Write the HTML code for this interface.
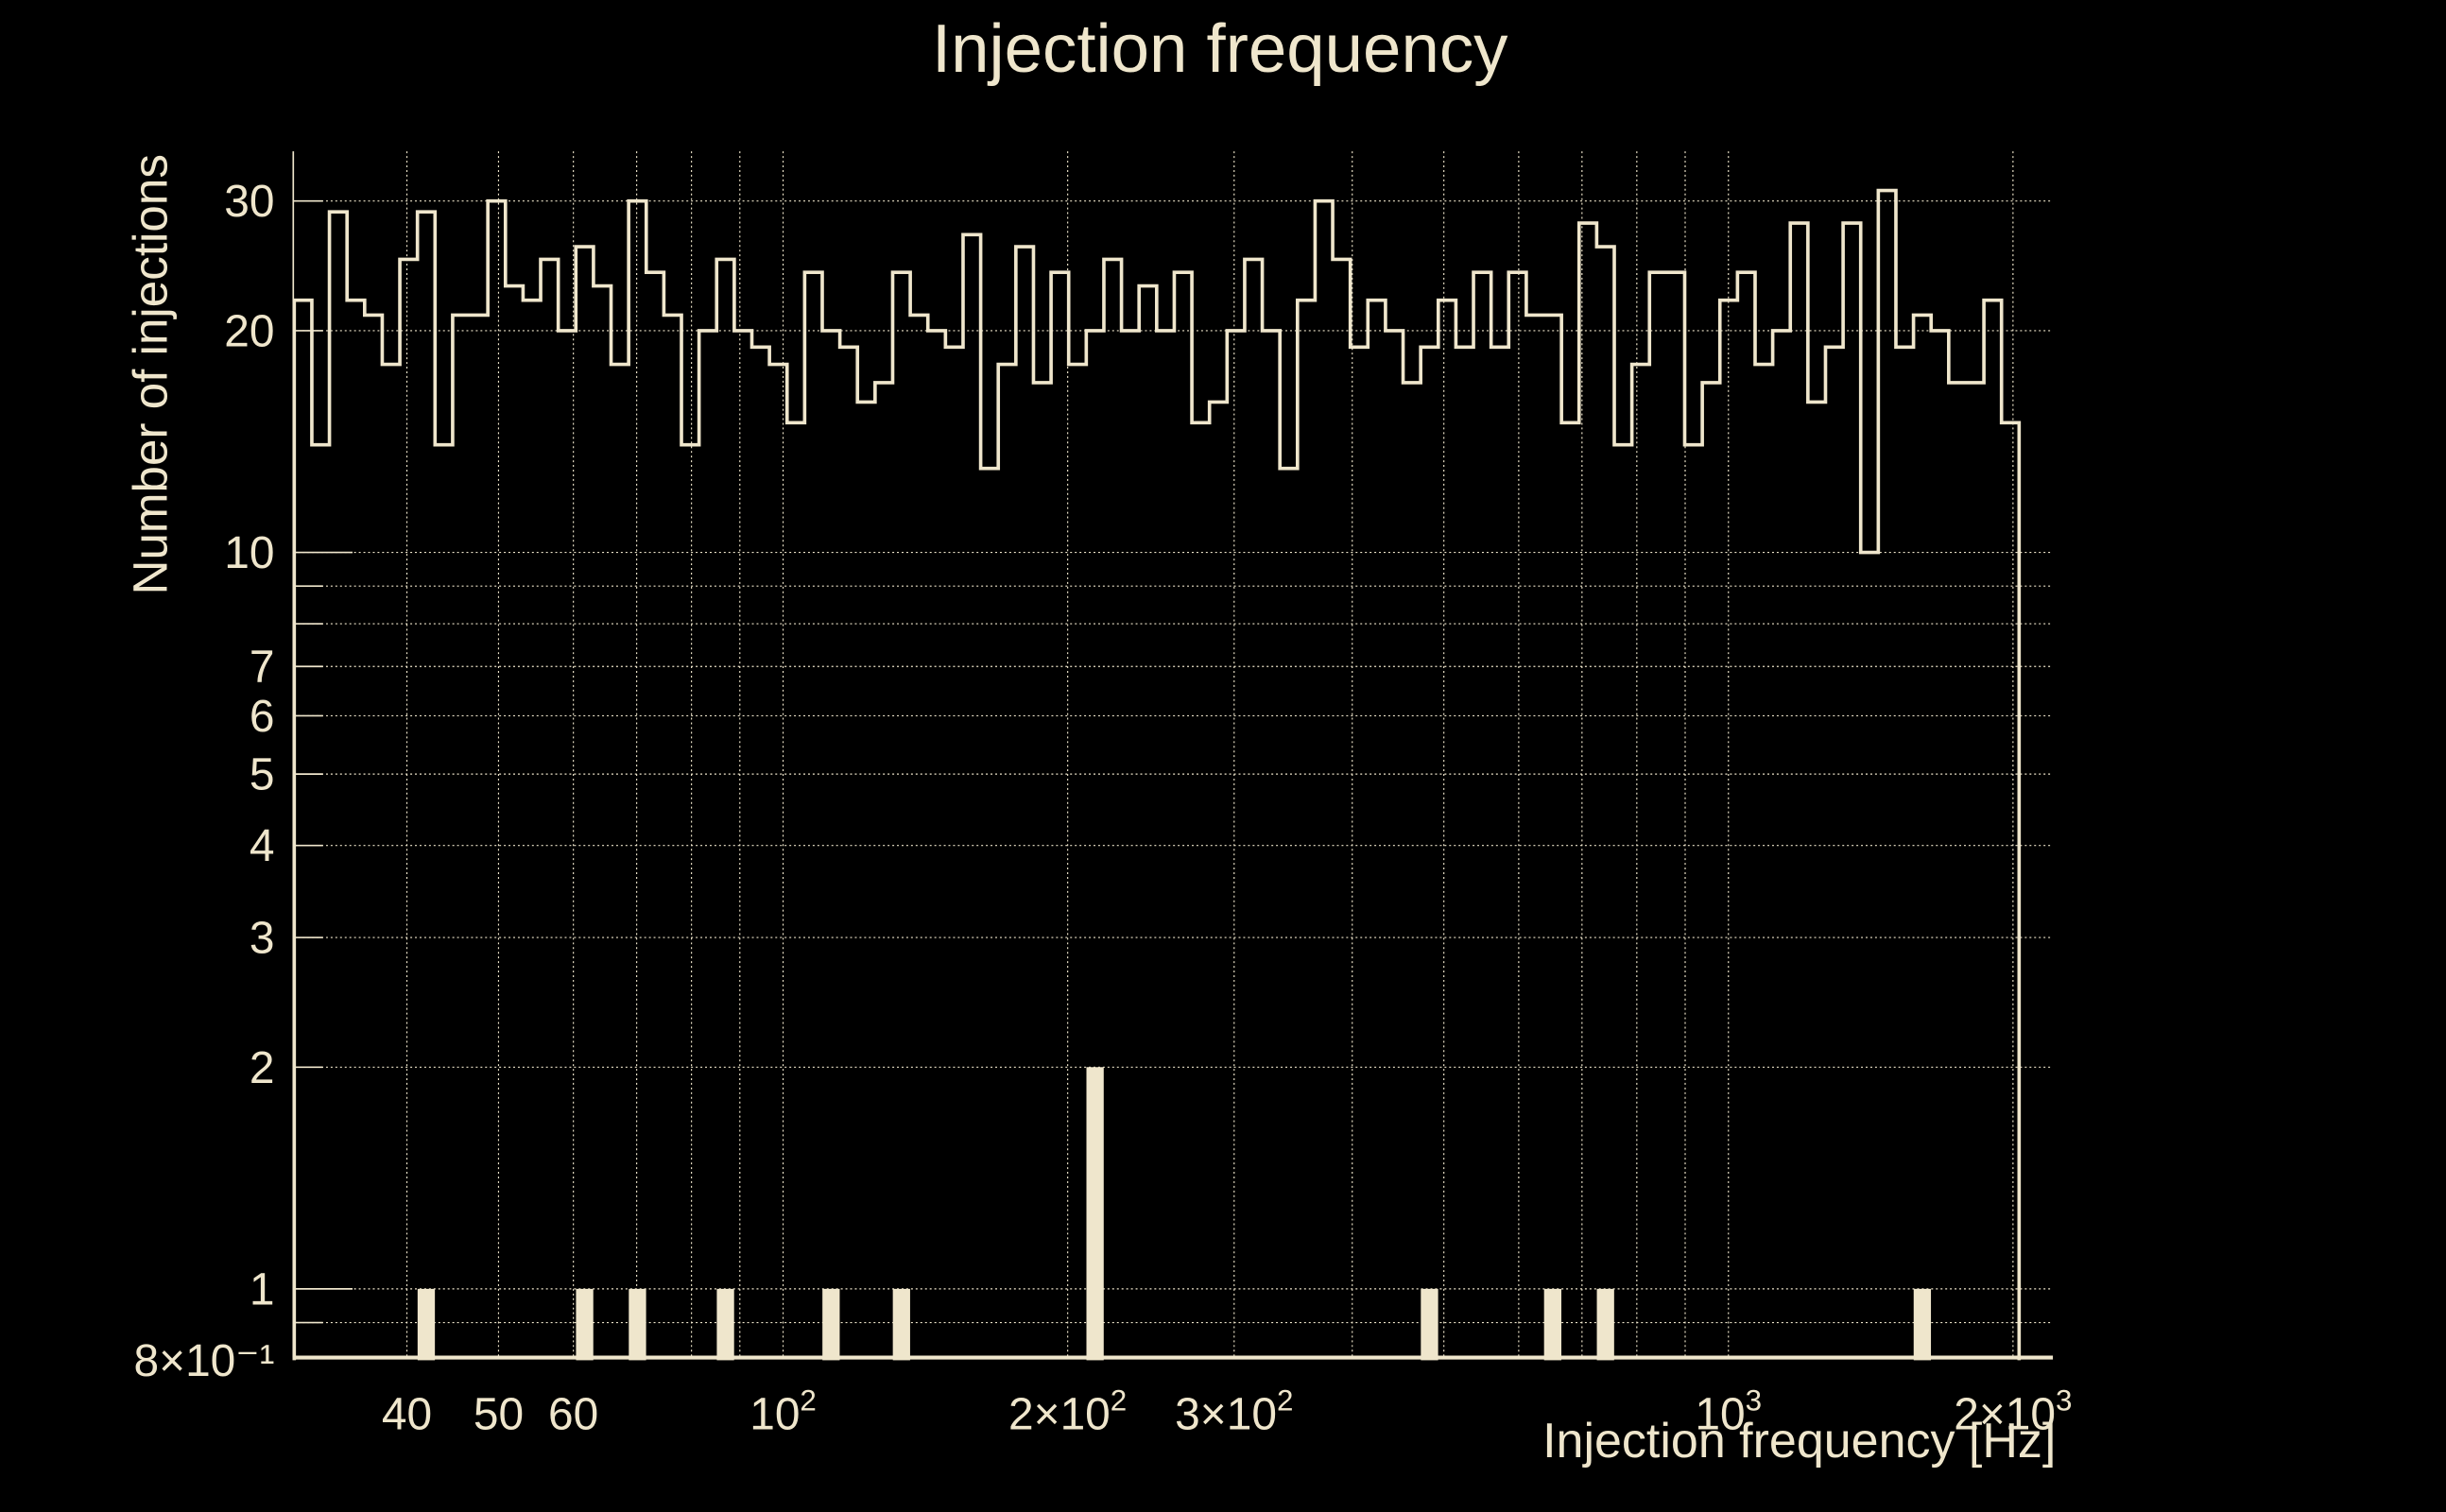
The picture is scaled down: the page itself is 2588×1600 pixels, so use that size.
<!DOCTYPE html>
<html><head><meta charset="utf-8"><title>Injection frequency</title>
<style>
html,body{margin:0;padding:0;background:#000;}
svg{display:block;}
text{font-family:"Liberation Sans",sans-serif;fill:#efe6cc;}
</style></head>
<body>
<svg id="chart" xmlns="http://www.w3.org/2000/svg" width="2588" height="1600" viewBox="0 0 1568 969" preserveAspectRatio="none">
<rect x="0" y="0" width="1568" height="969" fill="#000"/>
<text x="782" y="46" font-size="44" text-anchor="middle">Injection frequency</text>
<text transform="translate(107,240) rotate(-90)" font-size="31" text-anchor="middle">Number of injections</text>
<text x="1318" y="934" font-size="31.5" text-anchor="end">Injection frequency [Hz]</text>
<g id="grid"></g>
<g id="ticks"></g>
<g id="bars"></g>
<path id="hist" fill="none" stroke="#efe6cc" stroke-width="2.2"/>
<g id="axes"></g>
</svg>
<script>
// ---- data ----
const histCounts = [22,14,29,22,21,18,25,29,14,21,21,30,23,22,25,20,26,23,18,30,24,21,14,20,25,
20,19,18,15,24,20,19,16,17,24,21,20,19,27,13,18,26,17,24,18,20,25,20,23,20,
24,15,16,20,25,20,13,22,30,25,19,22,20,17,19,22,19,24,19,24,21,21,15,28,26,
14,18,24,24,14,17,22,24,18,20,28,16,19,28,10,31,19,21,20,17,17,22,15];
const histRange = [30.4, 2030];
const lowBins = [7,16,19,24,30,34,45,64,71,74,92];
const lowCounts = [1,1,1,1,1,1,2,1,1,1,1];
const yTickValues = [30,20,10,7,6,5,4,3,2,1,0.8];
const yTickLabels = ["30","20","10","7","6","5","4","3","2","1","8×10⁻¹"];
const yGridValues = [1,2,3,4,5,6,7,8,9,10,20,30,0.9];
const xGridValues = [40,50,60,70,80,90,100,200,300,400,500,600,700,800,900,1000,2000];
const xTickValues = [40,50,60,100,200,300,1000,2000];
const xTickMain = ["40","50","60","10","2×10","3×10","10","2×10"];
const xTickSup = ["","","","2","2","2","3","3"];

// ---- scales ----
const PL=188, PR=1316, PT=97, PB=870;
const C="#efe6cc", NS="http://www.w3.org/2000/svg";
function x(f){return 502+606*Math.log10(f/100);}
function y(v){return 354-472*Math.log10(v/10);}
function mk(tag,attrs,parent){const e=document.createElementNS(NS,tag);for(const k in attrs)e.setAttribute(k,attrs[k]);parent.appendChild(e);return e;}
const grid=document.getElementById('grid'),ticks=document.getElementById('ticks'),bars=document.getElementById('bars'),axes=document.getElementById('axes');

yGridValues.forEach(v=>{
  const l=mk('line',{x1:PL,x2:PR,y1:y(v),y2:y(v),stroke:C,'stroke-width':0.7,'stroke-dasharray':'1.2 1.8'},grid);
  
  
  const major=(v===1||v===10);
  const t=mk('line',{x1:PL,x2:PL+(major?38:19),y1:y(v),y2:y(v),stroke:C,'stroke-width':1},ticks);
  
  
});
xGridValues.forEach(f=>{
  const l=mk('line',{x1:x(f),x2:x(f),y1:PT,y2:PB,stroke:C,'stroke-width':0.7,'stroke-dasharray':'1.2 1.8'},grid);
  
  
});
yTickValues.forEach((v,i)=>{
  const t=mk('text',{x:176,y:y(v)+10,'font-size':29,'text-anchor':'end'},ticks);
  t.textContent=yTickLabels[i];
  
  
});
xTickValues.forEach((f,i)=>{
  const t=mk('text',{x:x(f),y:916,'font-size':29,'text-anchor':'middle'},ticks);
  t.textContent=xTickMain[i];
  if(xTickSup[i]){const s=mk('tspan',{dy:-12,'font-size':19},t);s.textContent=xTickSup[i];}
  
  
});
const lmin=Math.log10(histRange[0]), lmax=Math.log10(histRange[1]), n=histCounts.length;
function edge(i){return x(Math.pow(10,lmin+(lmax-lmin)*i/n));}
let d="M"+edge(0)+","+y(0.8);
histCounts.forEach((c,i)=>{d+=" L"+edge(i)+","+y(c)+" L"+edge(i+1)+","+y(c);});
d+=" L"+edge(n)+","+y(0.8);
document.getElementById('hist').setAttribute('d',d);
lowBins.forEach((b,i)=>{
  const x0=edge(b),x1=edge(b+1);
  const r=mk('rect',{x:x0+0.1,y:y(lowCounts[i]),width:x1-x0-0.2,height:y(0.8)-y(lowCounts[i]),fill:C},bars);
  
  
});
const ax1=mk('line',{x1:PL,x2:PL,y1:PT,y2:PB,stroke:C,'stroke-width':1},axes);


const ax2=mk('line',{x1:PL,x2:PR,y1:PB,y2:PB,stroke:C,'stroke-width':2.5},axes);


</script>
</body></html>
